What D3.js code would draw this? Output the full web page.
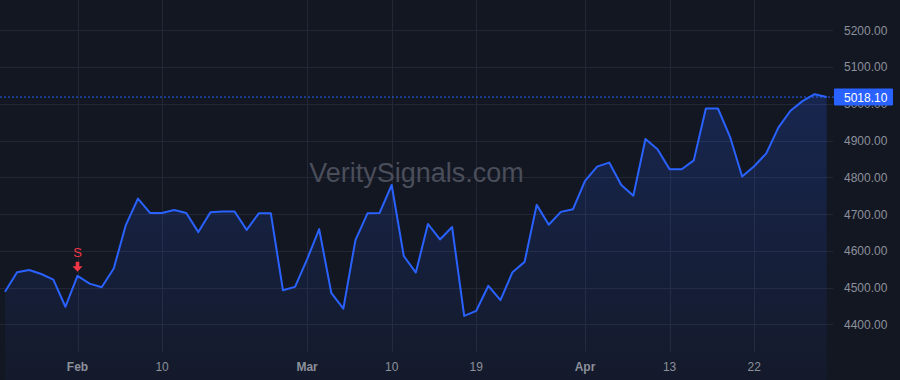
<!DOCTYPE html>
<html>
<head>
<meta charset="utf-8">
<script src="https://cdn.jsdelivr.net/npm/d3@7"></script>
<style>
  html, body { margin: 0; padding: 0; background: #131722; overflow: hidden; }
  text { font-family: "Liberation Sans", Arial, sans-serif; }
</style>
</head>
<body>
<div id="chart"></div>
<script>
var svgWidth = 900;
var svgHeight = 380;

// closing values, one per trading day (Jan 22 .. Apr 30)
var closes = [
  4489, 4542, 4548, 4537, 4522, 4448, 4532, 4511, 4501, 4552,
  4670, 4742, 4703, 4703, 4711, 4703, 4651, 4705, 4707, 4707,
  4657, 4702, 4702, 4493, 4502, 4577, 4659, 4486, 4443, 4629,
  4702, 4703, 4779, 4586, 4541, 4673, 4631, 4665, 4423, 4437,
  4505, 4466, 4542, 4570, 4725, 4671, 4706, 4713, 4790, 4829,
  4840, 4779, 4750, 4904, 4876, 4822, 4822, 4846, 4987, 4987,
  4910, 4802, 4830, 4865, 4935, 4981, 5007, 5026, 5018.10
];

// time axis ticks (index into closes)
var tickIndex = [6, 13, 25, 32, 39, 48, 55, 62];
var tickLabels = ["Feb", "10", "Mar", "10", "19", "Apr", "13", "22"];
var tickBold = [true, false, true, false, false, true, false, false];

// price axis ticks
var priceTicks = [4400, 4500, 4600, 4700, 4800, 4900, 5000, 5100, 5200];

// signals
var signalIndex = [6];
var signalLabels = ["S"];

var lastPrice = closes[closes.length - 1];

var plotRight = 833;
var plotBottom = 352;

var svg = d3.select("#chart")
  .append("svg")
  .attr("width", svgWidth)
  .attr("height", svgHeight);

svg.append("rect")
  .attr("width", svgWidth)
  .attr("height", svgHeight)
  .attr("fill", "#131722");

var x = d3.scaleLinear()
  .domain([0, closes.length - 1])
  .range([5, 826.7]);

var y = d3.scaleLinear()
  .domain([4325, 5282])
  .range([plotBottom, 0]);

// grid
var grid = svg.append("g");
grid.selectAll(".hgrid")
  .data(priceTicks)
  .enter()
  .append("line")
  .attr("x1", 0)
  .attr("x2", plotRight)
  .attr("y1", d => Math.round(y(d)) + 0.5)
  .attr("y2", d => Math.round(y(d)) + 0.5)
  .attr("stroke", "#232735")
  .attr("stroke-width", 1);

grid.selectAll(".vgrid")
  .data(tickIndex)
  .enter()
  .append("line")
  .attr("x1", d => Math.round(x(d)) + 0.5)
  .attr("x2", d => Math.round(x(d)) + 0.5)
  .attr("y1", 0)
  .attr("y2", plotBottom)
  .attr("stroke", "#232735")
  .attr("stroke-width", 1);

// watermark
svg.append("text")
  .attr("x", plotRight / 2)
  .attr("y", 182)
  .attr("text-anchor", "middle")
  .attr("font-size", 27)
  .attr("fill", "#4a4e5a")
  .text("VeritySignals.com");

// area gradient
var defs = svg.append("defs");
var grad = defs.append("linearGradient")
  .attr("id", "areaGrad")
  .attr("gradientUnits", "userSpaceOnUse")
  .attr("x1", 0).attr("y1", 0)
  .attr("x2", 0).attr("y2", svgHeight);
grad.append("stop").attr("offset", "0%").attr("stop-color", "#2962ff").attr("stop-opacity", 0.26);
grad.append("stop").attr("offset", "100%").attr("stop-color", "#2962ff").attr("stop-opacity", 0.04);

var area = d3.area()
  .x((d, i) => x(i))
  .y0(svgHeight)
  .y1(d => y(d));

svg.append("path")
  .datum(closes)
  .attr("d", area)
  .attr("fill", "url(#areaGrad)");

var line = d3.line()
  .x((d, i) => x(i))
  .y(d => y(d));

svg.append("path")
  .datum(closes)
  .attr("d", line)
  .attr("fill", "none")
  .attr("stroke", "#2962ff")
  .attr("stroke-width", 2)
  .attr("stroke-linejoin", "round");

// signal markers
var sig = svg.selectAll(".signal")
  .data(signalIndex)
  .enter()
  .append("g")
  .attr("transform", d => `translate(${x(d)}, ${y(closes[d])})`);

sig.append("path")
  .attr("d", "M-1.8,-14 L1.8,-14 L1.8,-9.5 L5,-9.5 L0,-4 L-5,-9.5 L-1.8,-9.5 Z")
  .attr("fill", "#f23645");

sig.append("text")
  .attr("y", -19)
  .attr("text-anchor", "middle")
  .attr("font-size", 13)
  .attr("fill", "#f23645")
  .text((d, i) => signalLabels[i]);

// last price dashed line
svg.append("line")
  .attr("x1", 0)
  .attr("x2", 834)
  .attr("y1", y(lastPrice))
  .attr("y2", y(lastPrice))
  .attr("stroke", "#2962ff")
  .attr("stroke-width", 1)
  .attr("stroke-dasharray", "2,2");

// price axis labels
svg.selectAll(".plabel")
  .data(priceTicks)
  .enter()
  .append("text")
  .attr("x", 844)
  .attr("y", d => y(d) + 4.5)
  .attr("font-size", 12)
  .attr("fill", "#8c909b")
  .text(d => d3.format(".2f")(d));

// last price label
svg.append("rect")
  .attr("x", 834)
  .attr("y", y(lastPrice) - 8.5)
  .attr("width", 59)
  .attr("height", 17)
  .attr("rx", 1)
  .attr("fill", "#2962ff");

svg.append("text")
  .attr("x", 844)
  .attr("y", y(lastPrice) + 4.5)
  .attr("font-size", 12)
  .attr("fill", "#ffffff")
  .text(d3.format(".2f")(lastPrice));

// time axis labels
svg.selectAll(".tlabel")
  .data(tickIndex)
  .enter()
  .append("text")
  .attr("x", d => x(d))
  .attr("y", 371)
  .attr("text-anchor", "middle")
  .attr("font-size", 12)
  .attr("font-weight", (d, i) => tickBold[i] ? "bold" : "normal")
  .attr("fill", "#8c909b")
  .text((d, i) => tickLabels[i]);
</script>
</body>
</html>
